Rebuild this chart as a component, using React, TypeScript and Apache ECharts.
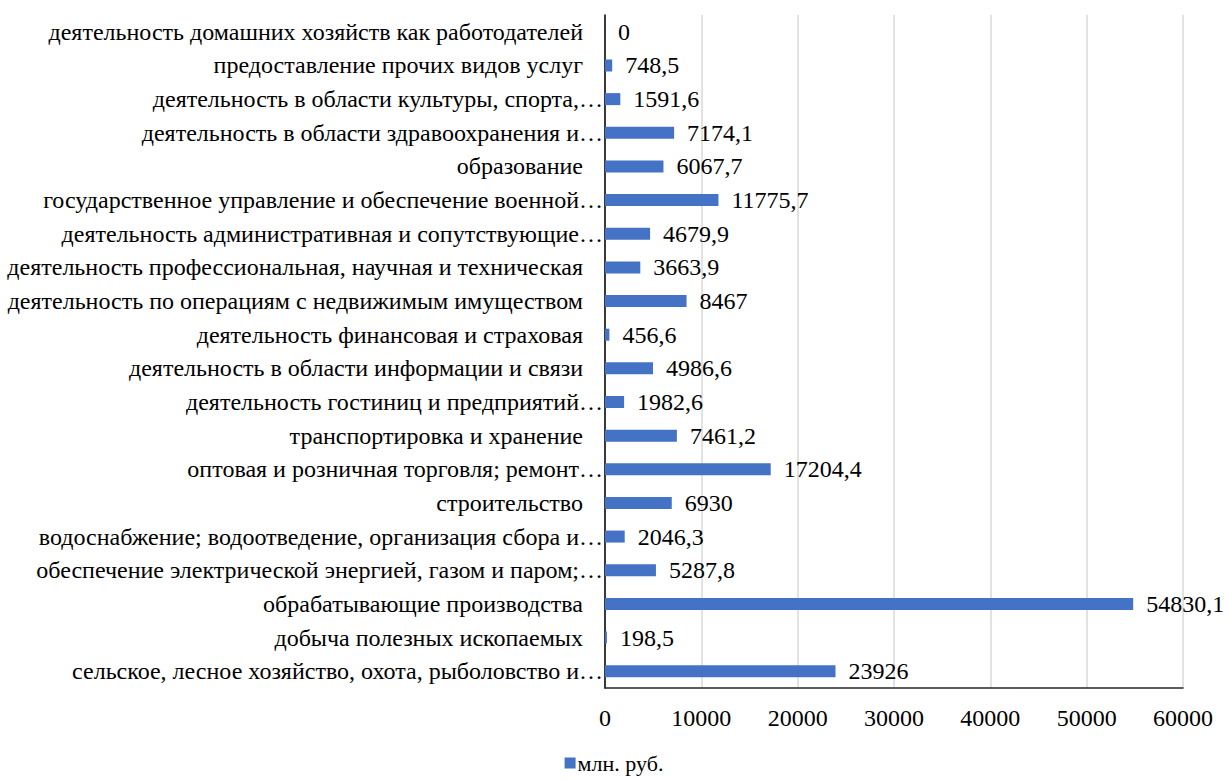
import React, { useEffect, useRef } from "react";
import * as echarts from "echarts";

const categories: string[] = [
  "деятельность домашних хозяйств как работодателей",
  "предоставление прочих видов услуг",
  "деятельность в области культуры, спорта,…",
  "деятельность в области здравоохранения и…",
  "образование",
  "государственное управление и обеспечение военной…",
  "деятельность административная и сопутствующие…",
  "деятельность профессиональная, научная и техническая",
  "деятельность по операциям с недвижимым имуществом",
  "деятельность финансовая и страховая",
  "деятельность в области информации и связи",
  "деятельность гостиниц и предприятий…",
  "транспортировка и хранение",
  "оптовая и розничная торговля; ремонт…",
  "строительство",
  "водоснабжение; водоотведение, организация сбора и…",
  "обеспечение электрической энергией, газом и паром;…",
  "обрабатывающие производства",
  "добыча полезных ископаемых",
  "сельское, лесное хозяйство, охота, рыболовство и…",
];

const values: number[] = [
  0, 748.5, 1591.6, 7174.1, 6067.7, 11775.7, 4679.9, 3663.9, 8467, 456.6,
  4986.6, 1982.6, 7461.2, 17204.4, 6930, 2046.3, 5287.8, 54830.1, 198.5, 23926,
];

const seriesName = "млн. руб.";
const xTicks = { min: 0, max: 60000, interval: 10000 };

const FONT = "Liberation Serif";
const FS = 24;

export default function App() {
  const ref = useRef<HTMLDivElement>(null);
  useEffect(() => {
    if (!ref.current) return;
    const chart = echarts.init(ref.current, null, { renderer: "svg" });
    chart.setOption({
      animation: false,
      grid: { left: 605, right: 45, top: 15, bottom: 93, containLabel: false },
      legend: {
        bottom: 2,
        left: "center",
        icon: "rect",
        itemWidth: 11,
        itemHeight: 11,
        itemGap: 5,
        textStyle: { fontFamily: FONT, fontSize: 22, color: "#000", padding: [0, 0, 0, -3] },
        data: [seriesName],
      },
      xAxis: {
        type: "value",
        min: xTicks.min,
        max: xTicks.max,
        interval: xTicks.interval,
        axisLine: { show: true, lineStyle: { color: "#262626", width: 1.5 } },
        axisTick: { show: false },
        splitLine: { show: true, lineStyle: { color: "#d9d9d9", width: 1.5 } },
        axisLabel: {
          color: "#000",
          fontFamily: FONT,
          fontSize: FS,
          margin: 18,
          formatter: (v: number) => String(v),
        },
      },
      yAxis: {
        type: "category",
        inverse: true,
        data: categories,
        axisLine: { show: true, lineStyle: { color: "#000", width: 1.5 } },
        axisTick: { show: false },
        axisLabel: {
          color: "#000",
          fontFamily: FONT,
          fontSize: FS,
          margin: 2,
          formatter: (v: string) => (v.endsWith("…") ? "{b|" + v + "}" : "{a|" + v + "}"),
          rich: {
            a: { fontFamily: FONT, fontSize: FS, color: "#000", padding: [0, 20, 0, 0] },
            b: { fontFamily: FONT, fontSize: FS, color: "#000" },
          },
        },
      },
      series: [
        {
          name: seriesName,
          type: "bar",
          data: values,
          barWidth: 12,
          itemStyle: { color: "#4472C4" },
          label: {
            show: true,
            position: "right",
            distance: 13,
            color: "#000",
            fontFamily: FONT,
            fontSize: FS,
            formatter: (p: any) => String(p.value).replace(".", ","),
          },
        },
      ],
    });
    return () => chart.dispose();
  }, []);
  return (
    <>
      <style>{`#root svg text, #root svg tspan { font-family: "Liberation Serif", serif !important; }`}</style>
      <div
        ref={ref}
        style={{ position: "absolute", left: 0, top: 0, width: 1228, height: 781 }}
      />
    </>
  );
}
